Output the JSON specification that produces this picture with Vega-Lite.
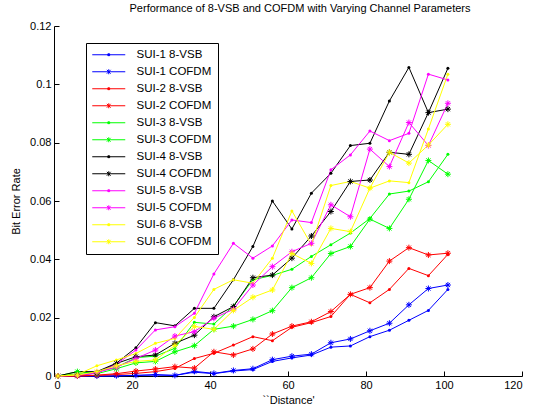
{
"$schema": "https://vega.github.io/schema/vega-lite/v6.json",
"width": 468, "height": 350,
"autosize": {"type": "none"},
"padding": {"left": 54, "top": 26, "right": 13, "bottom": 35},
"background": "white",
"title": {"text": "Performance of 8-VSB and COFDM with Varying Channel Parameters", "font": "Liberation Sans", "fontSize": 11, "fontWeight": "normal", "color": "#000", "offset": 6, "dx": 12},
"config": {
  "view": {"stroke": null},
  "axis": {"grid": false, "domainColor": "#000", "tickColor": "#000", "labelColor": "#000", "titleColor": "#000", "labelFont": "Liberation Sans", "titleFont": "Liberation Sans", "labelFontSize": 11, "titleFontSize": 11, "titleFontWeight": "normal", "tickSize": -5, "domainWidth": 1, "tickWidth": 1}
},
"data": {"values": [
{"s":"SUI-1 8-VSB","x":1,"y":0},{"s":"SUI-1 8-VSB","x":6,"y":0},{"s":"SUI-1 8-VSB","x":11,"y":0},{"s":"SUI-1 8-VSB","x":16,"y":0},{"s":"SUI-1 8-VSB","x":21,"y":0.0002},{"s":"SUI-1 8-VSB","x":26,"y":0.0003},{"s":"SUI-1 8-VSB","x":31,"y":0.0002},{"s":"SUI-1 8-VSB","x":36,"y":0.0013},{"s":"SUI-1 8-VSB","x":41,"y":0.0008},{"s":"SUI-1 8-VSB","x":46,"y":0.0017},{"s":"SUI-1 8-VSB","x":51,"y":0.0022},{"s":"SUI-1 8-VSB","x":56,"y":0.005},{"s":"SUI-1 8-VSB","x":61,"y":0.0062},{"s":"SUI-1 8-VSB","x":66,"y":0.0072},{"s":"SUI-1 8-VSB","x":71,"y":0.0099},{"s":"SUI-1 8-VSB","x":76,"y":0.0103},{"s":"SUI-1 8-VSB","x":81,"y":0.0135},{"s":"SUI-1 8-VSB","x":86,"y":0.0157},{"s":"SUI-1 8-VSB","x":91,"y":0.0191},{"s":"SUI-1 8-VSB","x":96,"y":0.0225},{"s":"SUI-1 8-VSB","x":101,"y":0.0297},
{"s":"SUI-1 COFDM","x":1,"y":0},{"s":"SUI-1 COFDM","x":6,"y":0},{"s":"SUI-1 COFDM","x":11,"y":0},{"s":"SUI-1 COFDM","x":16,"y":0.0001},{"s":"SUI-1 COFDM","x":21,"y":0.0002},{"s":"SUI-1 COFDM","x":26,"y":0.0005},{"s":"SUI-1 COFDM","x":31,"y":0.0002},{"s":"SUI-1 COFDM","x":36,"y":0.0016},{"s":"SUI-1 COFDM","x":41,"y":0.0009},{"s":"SUI-1 COFDM","x":46,"y":0.0019},{"s":"SUI-1 COFDM","x":51,"y":0.0025},{"s":"SUI-1 COFDM","x":56,"y":0.0056},{"s":"SUI-1 COFDM","x":61,"y":0.0068},{"s":"SUI-1 COFDM","x":66,"y":0.0075},{"s":"SUI-1 COFDM","x":71,"y":0.0114},{"s":"SUI-1 COFDM","x":76,"y":0.0127},{"s":"SUI-1 COFDM","x":81,"y":0.0155},{"s":"SUI-1 COFDM","x":86,"y":0.0181},{"s":"SUI-1 COFDM","x":91,"y":0.0244},{"s":"SUI-1 COFDM","x":96,"y":0.030},{"s":"SUI-1 COFDM","x":101,"y":0.0312},
{"s":"SUI-2 8-VSB","x":1,"y":0},{"s":"SUI-2 8-VSB","x":6,"y":0},{"s":"SUI-2 8-VSB","x":11,"y":0.0002},{"s":"SUI-2 8-VSB","x":16,"y":0.0005},{"s":"SUI-2 8-VSB","x":21,"y":0.0009},{"s":"SUI-2 8-VSB","x":26,"y":0.0015},{"s":"SUI-2 8-VSB","x":31,"y":0.0026},{"s":"SUI-2 8-VSB","x":36,"y":0.006},{"s":"SUI-2 8-VSB","x":41,"y":0.0078},{"s":"SUI-2 8-VSB","x":46,"y":0.0106},{"s":"SUI-2 8-VSB","x":51,"y":0.0135},{"s":"SUI-2 8-VSB","x":56,"y":0.0121},{"s":"SUI-2 8-VSB","x":61,"y":0.0167},{"s":"SUI-2 8-VSB","x":66,"y":0.0183},{"s":"SUI-2 8-VSB","x":71,"y":0.0204},{"s":"SUI-2 8-VSB","x":76,"y":0.028},{"s":"SUI-2 8-VSB","x":81,"y":0.0251},{"s":"SUI-2 8-VSB","x":86,"y":0.0297},{"s":"SUI-2 8-VSB","x":91,"y":0.0369},{"s":"SUI-2 8-VSB","x":96,"y":0.0344},{"s":"SUI-2 8-VSB","x":101,"y":0.0417},
{"s":"SUI-2 COFDM","x":1,"y":0},{"s":"SUI-2 COFDM","x":6,"y":0},{"s":"SUI-2 COFDM","x":11,"y":0.0003},{"s":"SUI-2 COFDM","x":16,"y":0.0008},{"s":"SUI-2 COFDM","x":21,"y":0.0017},{"s":"SUI-2 COFDM","x":26,"y":0.0024},{"s":"SUI-2 COFDM","x":31,"y":0.0032},{"s":"SUI-2 COFDM","x":36,"y":0.0027},{"s":"SUI-2 COFDM","x":41,"y":0.0083},{"s":"SUI-2 COFDM","x":46,"y":0.0072},{"s":"SUI-2 COFDM","x":51,"y":0.0093},{"s":"SUI-2 COFDM","x":56,"y":0.0144},{"s":"SUI-2 COFDM","x":61,"y":0.0171},{"s":"SUI-2 COFDM","x":66,"y":0.0186},{"s":"SUI-2 COFDM","x":71,"y":0.0221},{"s":"SUI-2 COFDM","x":76,"y":0.028},{"s":"SUI-2 COFDM","x":81,"y":0.0303},{"s":"SUI-2 COFDM","x":86,"y":0.0394},{"s":"SUI-2 COFDM","x":91,"y":0.044},{"s":"SUI-2 COFDM","x":96,"y":0.0415},{"s":"SUI-2 COFDM","x":101,"y":0.0421},
{"s":"SUI-3 8-VSB","x":1,"y":0},{"s":"SUI-3 8-VSB","x":6,"y":0.0008},{"s":"SUI-3 8-VSB","x":11,"y":0.0015},{"s":"SUI-3 8-VSB","x":16,"y":0.003},{"s":"SUI-3 8-VSB","x":21,"y":0.0063},{"s":"SUI-3 8-VSB","x":26,"y":0.0068},{"s":"SUI-3 8-VSB","x":31,"y":0.0095},{"s":"SUI-3 8-VSB","x":36,"y":0.0184},{"s":"SUI-3 8-VSB","x":41,"y":0.0178},{"s":"SUI-3 8-VSB","x":46,"y":0.024},{"s":"SUI-3 8-VSB","x":51,"y":0.033},{"s":"SUI-3 8-VSB","x":56,"y":0.0345},{"s":"SUI-3 8-VSB","x":61,"y":0.0366},{"s":"SUI-3 8-VSB","x":66,"y":0.041},{"s":"SUI-3 8-VSB","x":71,"y":0.045},{"s":"SUI-3 8-VSB","x":76,"y":0.049},{"s":"SUI-3 8-VSB","x":81,"y":0.054},{"s":"SUI-3 8-VSB","x":86,"y":0.0624},{"s":"SUI-3 8-VSB","x":91,"y":0.0634},{"s":"SUI-3 8-VSB","x":96,"y":0.0666},{"s":"SUI-3 8-VSB","x":101,"y":0.076},
{"s":"SUI-3 COFDM","x":1,"y":0},{"s":"SUI-3 COFDM","x":6,"y":0.0015},{"s":"SUI-3 COFDM","x":11,"y":0.0008},{"s":"SUI-3 COFDM","x":16,"y":0.0025},{"s":"SUI-3 COFDM","x":21,"y":0.0045},{"s":"SUI-3 COFDM","x":26,"y":0.005},{"s":"SUI-3 COFDM","x":31,"y":0.0083},{"s":"SUI-3 COFDM","x":36,"y":0.0104},{"s":"SUI-3 COFDM","x":41,"y":0.016},{"s":"SUI-3 COFDM","x":46,"y":0.0171},{"s":"SUI-3 COFDM","x":51,"y":0.0194},{"s":"SUI-3 COFDM","x":56,"y":0.0224},{"s":"SUI-3 COFDM","x":61,"y":0.0303},{"s":"SUI-3 COFDM","x":66,"y":0.0337},{"s":"SUI-3 COFDM","x":71,"y":0.042},{"s":"SUI-3 COFDM","x":76,"y":0.0444},{"s":"SUI-3 COFDM","x":81,"y":0.0538},{"s":"SUI-3 COFDM","x":86,"y":0.0506},{"s":"SUI-3 COFDM","x":91,"y":0.0606},{"s":"SUI-3 COFDM","x":96,"y":0.0739},{"s":"SUI-3 COFDM","x":101,"y":0.0692},
{"s":"SUI-4 8-VSB","x":1,"y":0},{"s":"SUI-4 8-VSB","x":6,"y":0.0015},{"s":"SUI-4 8-VSB","x":11,"y":0.0015},{"s":"SUI-4 8-VSB","x":16,"y":0.0044},{"s":"SUI-4 8-VSB","x":21,"y":0.0097},{"s":"SUI-4 8-VSB","x":26,"y":0.0183},{"s":"SUI-4 8-VSB","x":31,"y":0.0172},{"s":"SUI-4 8-VSB","x":36,"y":0.0232},{"s":"SUI-4 8-VSB","x":41,"y":0.0232},{"s":"SUI-4 8-VSB","x":46,"y":0.033},{"s":"SUI-4 8-VSB","x":51,"y":0.0444},{"s":"SUI-4 8-VSB","x":56,"y":0.060},{"s":"SUI-4 8-VSB","x":61,"y":0.0504},{"s":"SUI-4 8-VSB","x":66,"y":0.0627},{"s":"SUI-4 8-VSB","x":71,"y":0.0695},{"s":"SUI-4 8-VSB","x":76,"y":0.079},{"s":"SUI-4 8-VSB","x":81,"y":0.0798},{"s":"SUI-4 8-VSB","x":86,"y":0.0943},{"s":"SUI-4 8-VSB","x":91,"y":0.1058},{"s":"SUI-4 8-VSB","x":96,"y":0.0903},{"s":"SUI-4 8-VSB","x":101,"y":0.1055},
{"s":"SUI-4 COFDM","x":1,"y":0},{"s":"SUI-4 COFDM","x":6,"y":0.0003},{"s":"SUI-4 COFDM","x":11,"y":0.001},{"s":"SUI-4 COFDM","x":16,"y":0.0043},{"s":"SUI-4 COFDM","x":21,"y":0.0066},{"s":"SUI-4 COFDM","x":26,"y":0.0072},{"s":"SUI-4 COFDM","x":31,"y":0.0112},{"s":"SUI-4 COFDM","x":36,"y":0.014},{"s":"SUI-4 COFDM","x":41,"y":0.0203},{"s":"SUI-4 COFDM","x":46,"y":0.0238},{"s":"SUI-4 COFDM","x":51,"y":0.0337},{"s":"SUI-4 COFDM","x":56,"y":0.0346},{"s":"SUI-4 COFDM","x":61,"y":0.0404},{"s":"SUI-4 COFDM","x":66,"y":0.048},{"s":"SUI-4 COFDM","x":71,"y":0.0564},{"s":"SUI-4 COFDM","x":76,"y":0.0667},{"s":"SUI-4 COFDM","x":81,"y":0.0672},{"s":"SUI-4 COFDM","x":86,"y":0.0767},{"s":"SUI-4 COFDM","x":91,"y":0.076},{"s":"SUI-4 COFDM","x":96,"y":0.0903},{"s":"SUI-4 COFDM","x":101,"y":0.0915},
{"s":"SUI-5 8-VSB","x":1,"y":0},{"s":"SUI-5 8-VSB","x":6,"y":0.0003},{"s":"SUI-5 8-VSB","x":11,"y":0.001},{"s":"SUI-5 8-VSB","x":16,"y":0.004},{"s":"SUI-5 8-VSB","x":21,"y":0.0089},{"s":"SUI-5 8-VSB","x":26,"y":0.0158},{"s":"SUI-5 8-VSB","x":31,"y":0.0169},{"s":"SUI-5 8-VSB","x":36,"y":0.0215},{"s":"SUI-5 8-VSB","x":41,"y":0.035},{"s":"SUI-5 8-VSB","x":46,"y":0.0455},{"s":"SUI-5 8-VSB","x":51,"y":0.0404},{"s":"SUI-5 8-VSB","x":56,"y":0.0446},{"s":"SUI-5 8-VSB","x":61,"y":0.0535},{"s":"SUI-5 8-VSB","x":66,"y":0.0526},{"s":"SUI-5 8-VSB","x":71,"y":0.0707},{"s":"SUI-5 8-VSB","x":76,"y":0.0758},{"s":"SUI-5 8-VSB","x":81,"y":0.084},{"s":"SUI-5 8-VSB","x":86,"y":0.0807},{"s":"SUI-5 8-VSB","x":91,"y":0.0832},{"s":"SUI-5 8-VSB","x":96,"y":0.1035},{"s":"SUI-5 8-VSB","x":101,"y":0.1015},
{"s":"SUI-5 COFDM","x":1,"y":0},{"s":"SUI-5 COFDM","x":6,"y":0.0002},{"s":"SUI-5 COFDM","x":11,"y":0.0012},{"s":"SUI-5 COFDM","x":16,"y":0.003},{"s":"SUI-5 COFDM","x":21,"y":0.006},{"s":"SUI-5 COFDM","x":26,"y":0.0089},{"s":"SUI-5 COFDM","x":31,"y":0.0137},{"s":"SUI-5 COFDM","x":36,"y":0.0152},{"s":"SUI-5 COFDM","x":41,"y":0.0198},{"s":"SUI-5 COFDM","x":46,"y":0.0229},{"s":"SUI-5 COFDM","x":51,"y":0.0312},{"s":"SUI-5 COFDM","x":56,"y":0.0375},{"s":"SUI-5 COFDM","x":61,"y":0.0426},{"s":"SUI-5 COFDM","x":66,"y":0.0455},{"s":"SUI-5 COFDM","x":71,"y":0.0587},{"s":"SUI-5 COFDM","x":76,"y":0.0546},{"s":"SUI-5 COFDM","x":81,"y":0.0778},{"s":"SUI-5 COFDM","x":86,"y":0.0718},{"s":"SUI-5 COFDM","x":91,"y":0.0869},{"s":"SUI-5 COFDM","x":96,"y":0.079},{"s":"SUI-5 COFDM","x":101,"y":0.0935},
{"s":"SUI-6 8-VSB","x":1,"y":0},{"s":"SUI-6 8-VSB","x":6,"y":0.0005},{"s":"SUI-6 8-VSB","x":11,"y":0.0035},{"s":"SUI-6 8-VSB","x":16,"y":0.0055},{"s":"SUI-6 8-VSB","x":21,"y":0.0077},{"s":"SUI-6 8-VSB","x":26,"y":0.0112},{"s":"SUI-6 8-VSB","x":31,"y":0.0129},{"s":"SUI-6 8-VSB","x":36,"y":0.0201},{"s":"SUI-6 8-VSB","x":41,"y":0.0297},{"s":"SUI-6 8-VSB","x":46,"y":0.033},{"s":"SUI-6 8-VSB","x":51,"y":0.0318},{"s":"SUI-6 8-VSB","x":56,"y":0.0404},{"s":"SUI-6 8-VSB","x":61,"y":0.0566},{"s":"SUI-6 8-VSB","x":66,"y":0.045},{"s":"SUI-6 8-VSB","x":71,"y":0.0653},{"s":"SUI-6 8-VSB","x":76,"y":0.0667},{"s":"SUI-6 8-VSB","x":81,"y":0.0644},{"s":"SUI-6 8-VSB","x":86,"y":0.0669},{"s":"SUI-6 8-VSB","x":91,"y":0.0663},{"s":"SUI-6 8-VSB","x":96,"y":0.0847},{"s":"SUI-6 8-VSB","x":101,"y":0.1035},
{"s":"SUI-6 COFDM","x":1,"y":0},{"s":"SUI-6 COFDM","x":6,"y":0.0003},{"s":"SUI-6 COFDM","x":11,"y":0.0015},{"s":"SUI-6 COFDM","x":16,"y":0.0035},{"s":"SUI-6 COFDM","x":21,"y":0.005},{"s":"SUI-6 COFDM","x":26,"y":0.0055},{"s":"SUI-6 COFDM","x":31,"y":0.0105},{"s":"SUI-6 COFDM","x":36,"y":0.017},{"s":"SUI-6 COFDM","x":41,"y":0.016},{"s":"SUI-6 COFDM","x":46,"y":0.0225},{"s":"SUI-6 COFDM","x":51,"y":0.027},{"s":"SUI-6 COFDM","x":56,"y":0.0295},{"s":"SUI-6 COFDM","x":61,"y":0.042},{"s":"SUI-6 COFDM","x":66,"y":0.0386},{"s":"SUI-6 COFDM","x":71,"y":0.0506},{"s":"SUI-6 COFDM","x":76,"y":0.0495},{"s":"SUI-6 COFDM","x":81,"y":0.0644},{"s":"SUI-6 COFDM","x":86,"y":0.0767},{"s":"SUI-6 COFDM","x":91,"y":0.073},{"s":"SUI-6 COFDM","x":96,"y":0.0792},{"s":"SUI-6 COFDM","x":101,"y":0.0863}
]},
"encoding": {
  "x": {"field": "x", "type": "quantitative", "scale": {"domain": [0, 120], "nice": false}, "axis": {"values": [0,20,40,60,80,100,120], "title": "``Distance'", "labelPadding": 8, "titlePadding": 4}},
  "y": {"field": "y", "type": "quantitative", "scale": {"domain": [0, 0.12], "nice": false}, "axis": {"values": [0,0.02,0.04,0.06,0.08,0.1,0.12], "labelExpr": "format(datum.value, '.2~f')", "title": "Bit Error Rate", "labelPadding": 8, "titlePadding": 8}}
},
"layer": [
  {"mark": {"type": "line", "strokeWidth": 1},
   "encoding": {"color": {"field": "s", "type": "nominal",
     "scale": {"domain": ["SUI-1 8-VSB","SUI-1 COFDM","SUI-2 8-VSB","SUI-2 COFDM","SUI-3 8-VSB","SUI-3 COFDM","SUI-4 8-VSB","SUI-4 COFDM","SUI-5 8-VSB","SUI-5 COFDM","SUI-6 8-VSB","SUI-6 COFDM"],
               "range": ["#0000ff","#0000ff","#ff0000","#ff0000","#00ff00","#00ff00","#000000","#000000","#ff00ff","#ff00ff","#ffff00","#ffff00"]},
     "legend": {"title": null, "orient": "none", "legendX": 32, "legendY": 17, "symbolType": "M-3.3,0H3.3", "symbolSize": 100, "symbolStrokeWidth": 1, "symbolOffset": 11, "labelFont": "Liberation Sans", "labelFontSize": 11.5, "labelColor": "#000", "labelOffset": 22, "rowPadding": 4, "padding": 6, "strokeColor": "#000", "fillColor": "#fff",
       "encode": {"symbols": {"update": {"shape": {"signal": "indexof(datum.label,'COFDM')>=0 ? 'M-3.3,0H3.3M0,-0.5V0.5M-0.38,-0.38L0.38,0.38M-0.38,0.38L0.38,-0.38' : 'M-3.3,0H3.3M-0.18,-0.18H0.18V0.18H-0.18Z'"}}}}}}}},
  {"transform": [{"filter": "indexof(datum.s,'8-VSB')>=0"}],
   "mark": {"type": "point", "shape": "circle", "filled": true, "size": 9, "opacity": 1},
   "encoding": {"color": {"field": "s", "type": "nominal", "legend": null}}},
  {"transform": [{"filter": "indexof(datum.s,'COFDM')>=0"}],
   "mark": {"type": "point", "shape": "M-1,0H1M0,-1V1M-0.7,-0.7L0.7,0.7M-0.7,0.7L0.7,-0.7", "filled": false, "size": 36, "strokeWidth": 1, "opacity": 1},
   "encoding": {"color": {"field": "s", "type": "nominal", "legend": null}}}
]
}
